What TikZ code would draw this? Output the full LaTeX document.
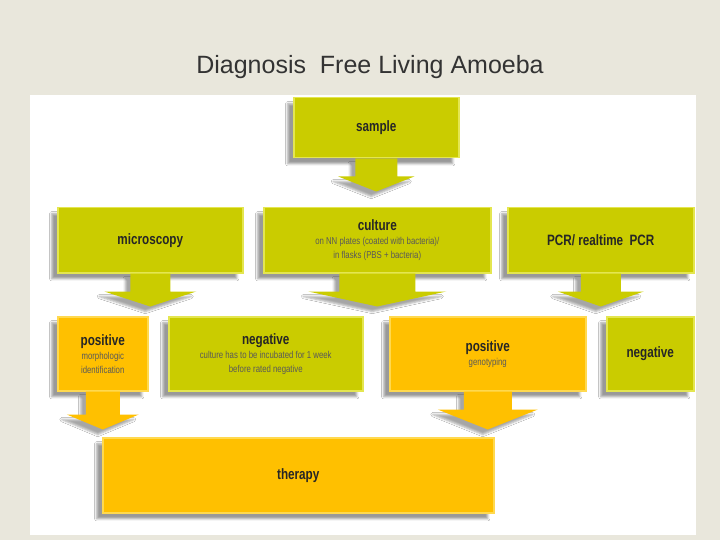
\documentclass[tikz,border=0pt]{standalone}
\usepackage{fontspec}
\setmainfont{Liberation Sans}
\newfontfamily\narrowf[FakeStretch=0.78]{Liberation Sans}
\usepackage{tikz}
\usetikzlibrary{calc,shadows.blur}

\definecolor{lime}{HTML}{CACC00}
\definecolor{limeedge}{HTML}{E4E650}
\definecolor{amber}{HTML}{FFC000}
\definecolor{amberedge}{HTML}{FFD94F}
\definecolor{pagebg}{HTML}{E9E7DC}

% small explanatory line inside a box
\newcommand{\subline}[1]{{\normalfont\narrowf\fontsize{10}{12}\selectfont\color{black!65}#1}}

% block arrow below a node: colour, node, stem half, head half, stem length, total length
\newcommand{\blockarrow}[6]{%
  \fill[#1, blur shadow={shadow xshift=-5pt, shadow yshift=-5pt, shadow opacity=35}]
    ($(#2.south)+(-#3,0)$) -- ++(0,#5) -- ($(#2.south)+(-#4,#5)$)
    -- ($(#2.south)+(0,#6)$) -- ($(#2.south)+(#4,#5)$)
    -- ($(#2.south)+(#3,#5)$) -- ($(#2.south)+(#3,0)$) -- cycle;}

\begin{document}
\begin{tikzpicture}[x=1pt, y=-1pt,
  box/.style={anchor=north west, draw=limeedge, line width=1.5pt, fill=lime, inner sep=2pt,
    align=center, text=black!85, font=\narrowf\bfseries\fontsize{15}{14}\selectfont,
    blur shadow={shadow xshift=-6pt, shadow yshift=-6pt, shadow opacity=40}},
  hit/.style={box, draw=amberedge, fill=amber}]

\useasboundingbox (0,0) rectangle (720,540);
\fill[pagebg] (0,0) rectangle (720,540);
\fill[white] (30,95) rectangle (696,535);
\node[font=\fontsize{25}{30}\selectfont, text=black!80] (title) at (370,67) {Diagnosis\ \ Free Living Amoeba};

\node[box, minimum width=165pt, minimum height=60pt] (sample) at (293,97) {sample};
\node[box, minimum width=185pt, minimum height=65pt] (micro) at (57,207) {microscopy};
\node[box, minimum width=227pt, minimum height=65pt] (culture) at (263,207)
  {culture\\\subline{on NN plates (coated with bacteria)/}\\\subline{in flasks (PBS + bacteria)}};
\node[box, minimum width=186pt, minimum height=65pt] (pcr) at (507,207) {PCR/ realtime\ \ PCR};

\node[hit, minimum width=90pt, minimum height=74pt] (posm) at (57,316)
  {positive\\\subline{morphologic}\\\subline{identification}};
\node[box, minimum width=194pt, minimum height=74pt] (negc) at (168,316)
  {negative\\\subline{culture has to be incubated for 1 week}\\\subline{before rated negative}};
\node[hit, minimum width=196pt, minimum height=74pt] (posg) at (389,316)
  {positive\\\subline{genotyping}};
\node[box, minimum width=87pt, minimum height=74pt] (negp) at (606,316) {negative};

\node[hit, minimum width=391pt, minimum height=75pt] (therapy) at (102,437) {therapy};

\blockarrow{lime}{sample}{21}{38}{18}{33}
\blockarrow{lime}{micro}{20}{46}{18}{33}
\blockarrow{lime}{culture}{38}{69}{18}{33}
\blockarrow{lime}{pcr}{20}{43}{18}{33}
\blockarrow{amber}{posm}{17}{36}{23}{38}
\blockarrow{amber}{posg}{24}{50}{18}{38}
\end{tikzpicture}
\end{document}
